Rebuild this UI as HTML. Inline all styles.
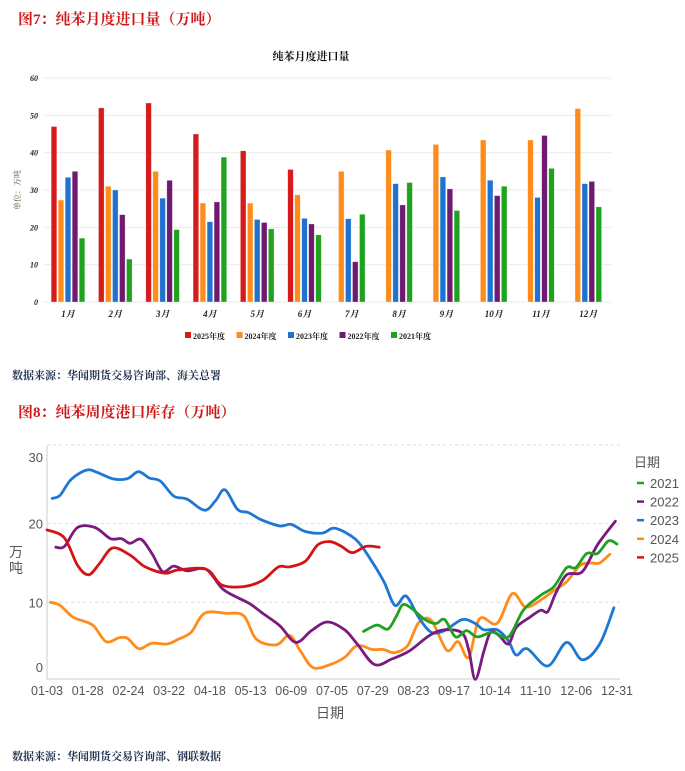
<!DOCTYPE html>
<html><head><meta charset="utf-8">
<style>
html,body{margin:0;padding:0;background:#fff;}
body{width:685px;height:771px;position:relative;overflow:hidden;}
.hdr{position:absolute;left:18px;font:bold 15px "Liberation Serif","Noto Serif CJK SC",serif;color:#d01818;}
.src{position:absolute;left:12px;font:bold 11px "Liberation Serif","Noto Serif CJK SC",serif;color:#243450;}
svg{position:absolute;left:0;top:0;}
</style></head>
<body>
<div class="hdr" style="top:8px">图7：纯苯月度进口量（万吨）</div>
<div class="src" style="top:367px">数据来源：华闻期货交易咨询部、海关总署</div>
<div class="hdr" style="top:401px">图8：纯苯周度港口库存（万吨）</div>
<div class="src" style="top:748px">数据来源：华闻期货交易咨询部、钢联数据</div>
<svg id="c1" width="685" height="360"></svg>
<svg id="c2" width="685" height="771"></svg>
<script>
// ---------- Chart 1 data ----------
const months = ['1月','2月','3月','4月','5月','6月','7月','8月','9月','10月','11月','12月'];
const yearLabels = ['2025年度','2024年度','2023年度','2022年度','2021年度'];
const barColors = ['#d71a1a','#ff8c1a','#1f72d0','#6d1a70','#1fa31f'];
const v2025 = [47,52,53.3,45,40.5,35.5,null,null,null,null,null,null];
const v2024 = [27.3,31,35,26.5,26.5,28.7,35,40.7,42.2,43.4,43.4,51.8];
const v2023 = [33.4,30,27.8,21.5,22.1,22.4,22.3,31.7,33.5,32.6,28,31.7];
const v2022 = [35,23.4,32.6,26.8,21.3,20.9,10.8,26,30.3,28.5,44.6,32.3];
const v2021 = [17.1,11.5,19.4,38.8,19.6,18,23.5,32,24.5,31,35.8,25.5];
const ticks1 = [0,10,20,30,40,50,60];

// ---------- Chart 2 data ----------
const xTickLabels = ['01-03','01-28','02-24','03-22','04-18','05-13','06-09','07-05','07-29','08-23','09-17','10-14','11-10','12-06','12-31'];
const yTicks2 = [0,10,20,30];
const seriesNames = ['2021','2022','2023','2024','2025'];
const seriesColors = ['#22a022','#7a1a7e','#1f77d4','#ff8c1a','#d41414'];
const d2021 = [204,212.5,219.5,225,229,234.7,243,250,255.5,262.5,269.4,276.3,286,296,305.5,316.6,325,333,338.8,345.7,352.6,359.6,365];
const s2021 = [6.3,7.1,6.6,8.3,9.7,9.2,7.8,7.3,7.8,5.6,6.4,5.6,6.2,5.6,9.0,10.9,12.0,14.4,14.4,16.2,16.2,17.8,17.4];
const d2022 = [8.6,14.1,22.4,33.5,43.2,50.2,55.7,62.7,69.6,76.5,83.5,92,104,114,122,132,140,151,161,171,181,192,200,211,222,233,246,255.5,266.6,271,275,280.5,284.7,290,296,301,309.6,316.6,321,326,333,343,352.6,364];
const s2022 = [17.0,17.1,19.5,19.5,18.1,18.1,17.5,18.0,16.2,13.9,14.6,14.0,14.2,11.8,10.8,9.8,8.6,7.0,4.9,6.4,7.5,6.5,4.7,2.1,2.8,3.8,5.8,6.5,6.1,3.8,0.2,3.8,6.2,5.8,4.7,6.8,8.1,9.0,8.8,11.1,13.5,13.9,17.3,20.3];
const d2023 = [6.3,11.3,18.3,28,35,44.6,54,61,68,75,83.5,92,103,110,116,124,131,139,151,158,167,178,186,199,208,217,224,231,239,247,255.5,266.6,275,280.5,289,296,301,308,321,333,343,354,363];
const s2023 = [23.2,23.6,25.6,26.8,26.5,25.7,25.7,26.6,25.8,25.4,23.5,23.1,21.7,22.9,24.3,21.8,21.4,20.5,19.7,19.9,19.0,18.8,19.4,18.0,15.6,12.6,9.6,10.8,8.1,6.2,6.4,7.8,7.3,6.5,6.5,5.1,3.3,4.1,1.9,4.9,2.7,4.7,9.3];
const d2024 = [5.2,11.3,19.7,32,40.5,48.8,54.3,61.3,69.6,79.3,86.3,94.6,103,116.8,127.9,136,148.7,157,164,172,183,192,200,209.7,216.7,223.6,232,239,247,257,264,270.8,277.7,288.8,298.5,306.9,316.6,325,333,341.6,348.5,354,360.4];
const s2024 = [10.0,9.6,8.1,7.1,5.0,5.5,5.4,4.1,4.8,4.7,5.3,6.2,8.6,8.6,8.3,5.3,4.6,5.8,3.8,1.7,2.1,3.0,4.5,4.0,4.0,3.6,4.5,7.4,7.7,3.9,5.0,3.0,7.9,7.3,11.1,9.4,10.3,11.5,12.6,14.7,15.0,15.0,16.1];
const d2025 = [3,14,22.4,29.4,36.3,44.6,55.7,65.4,78,86,104,114,128,140,150,157,167,175,183,190,197,205.6,214];
const s2025 = [19.2,18.2,14.7,13.5,14.9,16.9,16.0,14.5,13.7,14.1,14.2,12.2,12.0,12.8,14.5,14.5,15.2,17.3,17.7,17.1,16.3,17.1,17.0];

const NS='http://www.w3.org/2000/svg';
function mk(parent,tag,attrs,text){const e=document.createElementNS(NS,tag);for(const k in attrs)e.setAttribute(k,attrs[k]);if(text!=null)e.textContent=text;parent.appendChild(e);return e;}

// ---------- Chart 1 ----------
(function(){
const svg=document.getElementById('c1');
const y0=302, yTop=78, yMax=60;
const y=v=>y0-(v/yMax)*(y0-yTop);
const gx=i=>68+i*47.3;
const serif='"Liberation Serif","Noto Serif CJK SC",serif';
let t=mk(svg,'text',{x:311,y:60,'text-anchor':'middle','font-size':11,'font-weight':'bold','font-family':serif,fill:'#111'},'纯苯月度进口量');


ticks1.forEach(v=>{
  const g=mk(svg,'line',{x1:44,x2:611,y1:y(v),y2:y(v),stroke:'#ebebeb','stroke-width':1});
  
  
  const l=mk(svg,'text',{x:38,y:y(v)+3,'text-anchor':'end','font-size':8,'font-style':'italic','font-weight':'bold','font-family':serif,fill:'#222'},String(v));
  
  
});
t=mk(svg,'text',{transform:'translate(20,190) rotate(-90)','text-anchor':'middle','font-size':8,'font-family':serif,fill:'#4a5a2a'},'单位：万吨');


const all=[v2025,v2024,v2023,v2022,v2021];
months.forEach((m,i)=>{
  const present=[];all.forEach((s,k)=>{if(s[i]!=null)present.push(k);});
  const n=present.length, step=7, w=5.6;
  present.forEach((k,j)=>{
    const cx=gx(i)+(j-(n-1)/2)*step;
    const v=all[k][i];
    const r=mk(svg,'rect',{x:cx-w/2,y:y(v),width:w,height:y0-y(v),fill:barColors[k],stroke:'rgba(255,255,255,0.5)','stroke-width':0.6});
    
    
  });
  const l=mk(svg,'text',{x:gx(i),y:317,'text-anchor':'middle','font-size':9,'font-style':'italic','font-weight':'bold','font-family':serif,fill:'#222'},m);
  
  
});
yearLabels.forEach((yl,k)=>{
  const lx=185+k*51.5;
  const s=mk(svg,'rect',{x:lx,y:332,width:6,height:6,fill:barColors[k]});
  
  
  const tt=mk(svg,'text',{x:lx+8,y:339,'font-size':8,'font-weight':'bold','font-family':serif,fill:'#222'},yl);
  
  
});
})();

// ---------- Chart 2 ----------
(function(){
const svg=document.getElementById('c2');
const sans='"Liberation Sans","Noto Sans CJK SC",sans-serif';
const xL=47,xR=617,dMin=3,dMax=365;
const x=d=>xL+(d-dMin)/(dMax-dMin)*(xR-xL);
const y=v=>681-v*7.87;
// grid
[10,20,30].forEach(v=>{
  const g=mk(svg,'line',{x1:xL,x2:620,y1:y(v),y2:y(v),stroke:'#ddd','stroke-dasharray':'3,3'});
  
  
});
let a=mk(svg,'line',{x1:xL,x2:xL,y1:446,y2:679,stroke:'#ccc'});


a=mk(svg,'line',{x1:xL,x2:620,y1:679,y2:679,stroke:'#ccc'});


yTicks2.forEach(v=>{
  const ly=Math.min(Math.max(y(v),457),667);
  const l=mk(svg,'text',{x:43,y:ly+5,'text-anchor':'end','font-size':13,'font-family':sans,fill:'#555'},String(v));
  
  
});
xTickLabels.forEach((lab,i)=>{
  const lx=xL+i*(xR-xL)/(xTickLabels.length-1);
  const l=mk(svg,'text',{x:lx,y:695,'text-anchor':'middle','font-size':12.5,'font-family':sans,fill:'#555'},lab);
  
  
});
let t=mk(svg,'text',{x:330,y:718,'text-anchor':'middle','font-size':14,'font-family':sans,fill:'#555'},'日期');


t=mk(svg,'text',{x:16,y:557,'text-anchor':'middle','font-size':14,'font-family':sans,fill:'#555'},'万');


t=mk(svg,'text',{x:16,y:573,'text-anchor':'middle','font-size':14,'font-family':sans,fill:'#555'},'吨');


function path(ds,vs){
  const p=ds.map((d,i)=>[x(d),y(vs[i])]);
  let s='M'+p[0][0].toFixed(1)+','+p[0][1].toFixed(1);
  for(let i=0;i<p.length-1;i++){
    const p0=p[i-1]||p[i],p1=p[i],p2=p[i+1],p3=p[i+2]||p2;
    const c1=[p1[0]+(p2[0]-p0[0])/6,p1[1]+(p2[1]-p0[1])/6];
    const c2=[p2[0]-(p3[0]-p1[0])/6,p2[1]-(p3[1]-p1[1])/6];
    s+='C'+c1[0].toFixed(1)+','+c1[1].toFixed(1)+' '+c2[0].toFixed(1)+','+c2[1].toFixed(1)+' '+p2[0].toFixed(1)+','+p2[1].toFixed(1);
  }
  return s;
}
const ds=[d2021,d2022,d2023,d2024,d2025], ss=[s2021,s2022,s2023,s2024,s2025];
const order=[3,2,1,0,4];
order.forEach(k=>{
  const pth=mk(svg,'path',{d:path(ds[k],ss[k]),fill:'none',stroke:seriesColors[k],'stroke-width':2.8,'stroke-linejoin':'round','stroke-linecap':'round'});
  
  
});
t=mk(svg,'text',{x:634,y:467,'font-size':13,'font-family':sans,fill:'#555'},'日期');


seriesNames.forEach((n,k)=>{
  const ly=483+k*18.6;
  const m=mk(svg,'line',{x1:637,x2:644,y1:ly,y2:ly,stroke:seriesColors[k],'stroke-width':2.5});
  
  
  const tt=mk(svg,'text',{x:650,y:ly+5,'font-size':13,'font-family':sans,fill:'#555'},n);
  
  
});
})();
</script>
</body></html>
